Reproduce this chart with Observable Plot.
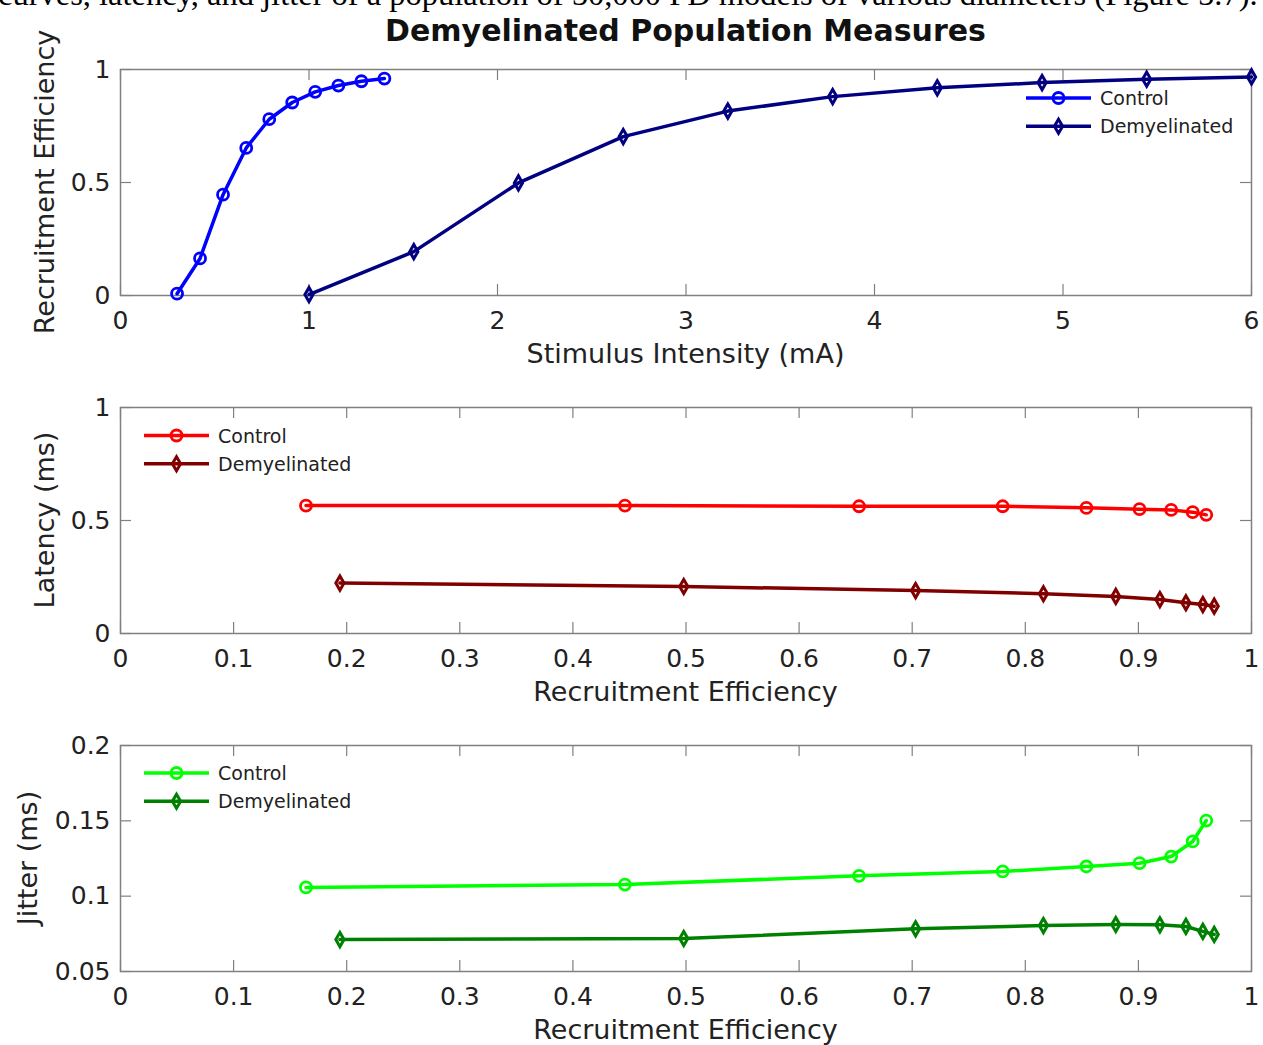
<!DOCTYPE html>
<html>
<head>
<meta charset="utf-8">
<script src="https://cdn.jsdelivr.net/npm/d3@7"></script>
<script src="https://cdn.jsdelivr.net/npm/@observablehq/plot@0.6"></script>
<style>
  html, body { margin: 0; padding: 0; background: #fff; }
  #wrap { position: relative; width: 1263px; height: 1045px; overflow: hidden; background: #fff; }
  .panel { position: absolute; left: 0; }
  #caption { position: absolute; left: -2px; top: -22px; white-space: nowrap; font-family: "Liberation Serif", "Times New Roman", serif; font-size: 32.5px; line-height: 32px; color: #000; }
  #overlay { position: absolute; left: 0; top: 0; pointer-events: none; }
</style>
</head>
<body>
<div id="wrap">
  <div id="caption">curves, latency, and jitter of a population of 50,000 PD models of various diameters (Figure 5.7).</div>
</div>
<script>
// ---------------- data ----------------
const stimControl = [0.3, 0.422, 0.544, 0.667, 0.789, 0.911, 1.033, 1.156, 1.278, 1.4];
const stimDemy    = [1.0, 1.556, 2.111, 2.667, 3.222, 3.778, 4.333, 4.889, 5.444, 6.0];
const recControl  = [0.008, 0.164, 0.446, 0.653, 0.780, 0.854, 0.901, 0.929, 0.948, 0.960];
const recDemy     = [0.004, 0.194, 0.498, 0.703, 0.816, 0.880, 0.919, 0.942, 0.957, 0.967];
// latency / jitter are given for the non-zero recruitment points (2nd..10th)
const latControl  = [0.566, 0.566, 0.563, 0.563, 0.556, 0.550, 0.547, 0.537, 0.525];
const latDemy     = [0.223, 0.208, 0.190, 0.176, 0.164, 0.150, 0.136, 0.128, 0.121];
const jitControl  = [0.1058, 0.1077, 0.1135, 0.1164, 0.1197, 0.1219, 0.1263, 0.1363, 0.1502];
const jitDemy     = [0.0712, 0.0719, 0.0783, 0.0805, 0.0812, 0.0810, 0.0799, 0.0766, 0.0746];

const seriesNames = ["Control", "Demyelinated"];
const stimTicks = [0, 1, 2, 3, 4, 5, 6];
const recTicks  = [0, 0.1, 0.2, 0.3, 0.4, 0.5, 0.6, 0.7, 0.8, 0.9, 1];
const unitTicks = [0, 0.5, 1];
const jitTicks  = [0.05, 0.1, 0.15, 0.2];

const title = "Demyelinated Population Measures";
const labels = {
  stim: "Stimulus Intensity (mA)",
  rec: "Recruitment Efficiency",
  lat: "Latency (ms)",
  jit: "Jitter (ms)"
};
const colors = {
  top: ["#0000ff", "#000080"],
  mid: ["#ff0000", "#800000"],
  bot: ["#00ff00", "#008000"]
};

// ---------------- build ----------------
const W = 1263, ML = 120, MR = 12, MT = 40, MB = 75, IH = 226, IW = W - ML - MR;
const TL = 11, GRAY = "#808080";
const LW = 3.5, CW = 2.8, DW = 3, CR = 5.5, DR = 4.3;
const fmt = d => String(d);

function toRows(xs, ys) { return xs.map((x, i) => ({x, y: ys[i]})); }

function panel({xDomain, yDomain, xTicks, yTicks, ctrl, demy, cols}) {
  const lineOpts = (c) => ({x: "x", y: "y", stroke: c, strokeWidth: LW, strokeLinejoin: "round"});
  return Plot.plot({
    width: W, height: MT + IH + MB,
    marginLeft: ML, marginRight: MR, marginTop: MT, marginBottom: MB,
    style: {fontFamily: "DejaVu Sans, sans-serif", fontSize: "25px", color: "#222", background: "transparent", overflow: "visible"},
    x: {domain: xDomain},
    y: {domain: yDomain},
    marks: [
      Plot.frame({stroke: GRAY, strokeWidth: 1.5}),
      Plot.tickX(xTicks, {x: d => d, insetTop: IH - TL, stroke: GRAY, strokeWidth: 1.2}),
      Plot.tickX(xTicks, {x: d => d, insetBottom: IH - TL, stroke: GRAY, strokeWidth: 1.2}),
      Plot.tickY(yTicks, {y: d => d, insetRight: IW - TL, stroke: GRAY, strokeWidth: 1.2}),
      Plot.tickY(yTicks, {y: d => d, insetLeft: IW - TL, stroke: GRAY, strokeWidth: 1.2}),
      Plot.axisX(xTicks, {tickSize: 0, tickPadding: 16, tickFormat: fmt, label: null}),
      Plot.axisY(yTicks, {tickSize: 0, tickPadding: 10, tickFormat: fmt, label: null}),
      Plot.line(ctrl, lineOpts(cols[0])),
      Plot.dot(ctrl, {x: "x", y: "y", r: CR, stroke: cols[0], strokeWidth: CW, fill: "none"}),
      Plot.line(demy, lineOpts(cols[1])),
      Plot.dot(demy, {x: "x", y: "y", r: DR, symbol: "diamond", stroke: cols[1], strokeWidth: DW, fill: "none"})
    ]
  });
}

const wrap = document.getElementById("wrap");
const panels = [
  {top: 29, xDomain: [0, 6], yDomain: [0, 1], xTicks: stimTicks, yTicks: unitTicks,
   ctrl: toRows(stimControl, recControl), demy: toRows(stimDemy, recDemy), cols: colors.top},
  {top: 367, xDomain: [0, 1], yDomain: [0, 1], xTicks: recTicks, yTicks: unitTicks,
   ctrl: toRows(recControl.slice(1), latControl), demy: toRows(recDemy.slice(1), latDemy), cols: colors.mid},
  {top: 705, xDomain: [0, 1], yDomain: [0.05, 0.2], xTicks: recTicks, yTicks: jitTicks,
   ctrl: toRows(recControl.slice(1), jitControl), demy: toRows(recDemy.slice(1), jitDemy), cols: colors.bot}
];
for (const p of panels) {
  const div = document.createElement("div");
  div.className = "panel";
  div.style.top = p.top + "px";
  div.appendChild(panel(p));
  wrap.appendChild(div);
}

// ---------------- annotations (title, axis labels, legends) ----------------
const ns = "http://www.w3.org/2000/svg";
const ov = document.createElementNS(ns, "svg");
ov.setAttribute("id", "overlay");
ov.setAttribute("width", W);
ov.setAttribute("height", 1045);
wrap.appendChild(ov);
function el(tag, attrs, text) {
  const e = document.createElementNS(ns, tag);
  for (const k in attrs) e.setAttribute(k, attrs[k]);
  if (text != null) e.textContent = text;
  ov.appendChild(e);
  return e;
}
const cx = ML + IW / 2;
const FONT = "DejaVu Sans, sans-serif";
el("text", {x: cx, y: 41, "text-anchor": "middle", "font-family": FONT, "font-weight": "bold", "font-size": 30, fill: "#111"}, title);
// x labels
[[363, labels.stim], [701, labels.rec], [1039, labels.rec]].forEach(([y, t]) =>
  el("text", {x: cx, y, "text-anchor": "middle", "font-family": FONT, "font-size": 27, fill: "#222"}, t));
// y labels
[[54, 69 + IH / 2, labels.rec], [54, 407 + IH / 2, labels.lat], [37, 745 + IH / 2, labels.jit]].forEach(([x, y, t]) =>
  el("text", {x, y, "text-anchor": "middle", transform: `rotate(-90 ${x} ${y})`, "font-family": FONT, "font-size": 27, fill: "#222"}, t));
// legends
function legend(x0, y0, cols) {
  seriesNames.forEach((name, i) => {
    const y = y0 + i * 28.3;
    el("line", {x1: x0, x2: x0 + 65, y1: y, y2: y, stroke: cols[i], "stroke-width": LW});
    const mx = x0 + 32.5;
    if (i === 0) el("circle", {cx: mx, cy: y, r: CR, fill: "none", stroke: cols[i], "stroke-width": CW});
    else el("path", {d: `M${mx},${y - 7}L${mx + 4.1},${y}L${mx},${y + 7}L${mx - 4.1},${y}Z`, fill: "none", stroke: cols[i], "stroke-width": DW});
    el("text", {x: x0 + 74, y: y + 7, "font-family": FONT, "font-size": 19, fill: "#222"}, name);
  });
}
legend(1026, 98, colors.top);
legend(144, 435.5, colors.mid);
legend(144, 773, colors.bot);
</script>
</body>
</html>
